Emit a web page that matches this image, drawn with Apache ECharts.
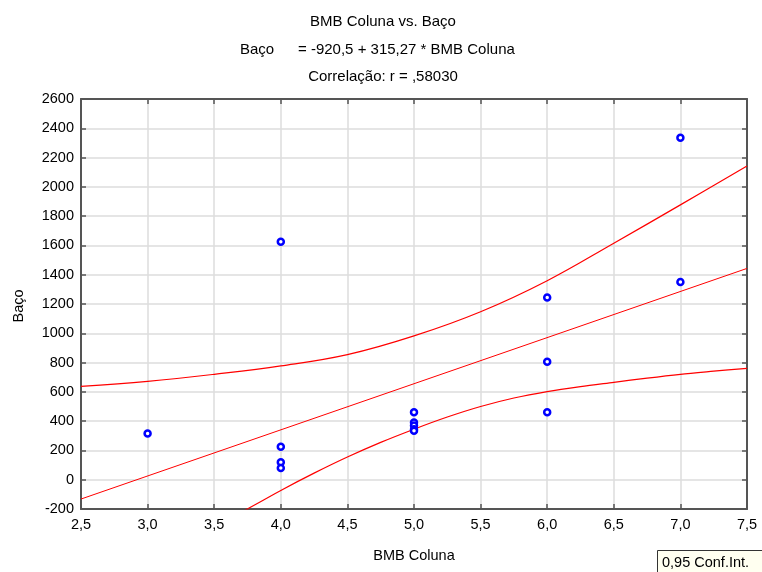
<!DOCTYPE html>
<html>
<head>
<meta charset="utf-8">
<script src="https://cdn.jsdelivr.net/npm/echarts@6/dist/echarts.min.js"></script>
<style>html,body{margin:0;padding:0;background:#fff;}#c{width:762px;height:572px;}</style>
</head>
<body>
<div id="c"></div>
<script>
// Observed points (BMB Coluna, Baço)
var pointX = [3.0, 4.0, 4.0, 4.0, 4.0, 5.0, 5.0, 5.0, 5.0, 5.0, 6.0, 6.0, 6.0, 7.0, 7.0];
var pointY = [315, 1625, 225, 120, 80, 460, 390, 370, 345, 335, 1245, 805, 460, 2335, 1350];

// Regression line endpoints
var regX = [2.5, 7.5];
var regY = [-132, 1443];

// Upper 0.95 confidence band
var upperX = [2.5, 3.0, 3.5, 4.0, 4.5, 5.0, 5.5, 6.0, 6.5, 7.0, 7.5];
var upperY = [638, 672, 720, 777, 854, 982, 1147, 1359, 1615, 1877, 2143];

// Lower 0.95 confidence band
var lowerX = [3.5, 3.75, 4.0, 4.25, 4.5, 4.75, 5.0, 5.25, 5.5, 5.75, 6.0, 6.25, 6.5, 6.75, 7.0, 7.25, 7.5];
var lowerY = [-330, -200, -73, 45, 155, 255, 345, 428, 500, 558, 602, 636, 665, 694, 720, 741, 761];

// Axis ticks
var xMin = 2.5, xMax = 7.5, xStep = 0.5;
var yMin = -200, yMax = 2600, yStep = 200;

function zip(a, b) { return a.map(function (v, i) { return [v, b[i]]; }); }

var FONT = '"Liberation Sans", Arial, sans-serif';
var axisCol = '#555';
var chart = echarts.init(document.getElementById('c'), null, { renderer: 'canvas' });

var tickStyle = { show: true, inside: true, length: 5, lineStyle: { color: axisCol, width: 1.5 } };
var lineStyleAxis = { show: true, onZero: false, lineStyle: { color: axisCol, width: 2 } };

chart.setOption({
  animation: false,
  backgroundColor: '#fff',
  grid: { left: 81, right: 15, top: 99, bottom: 63 },
  xAxis: [{
    type: 'value', min: xMin, max: xMax, interval: xStep,
    axisLine: lineStyleAxis, axisTick: tickStyle,
    splitLine: { show: true, lineStyle: { color: '#dcdcdc', width: 1.5 } },
    axisLabel: { color: '#000', fontFamily: FONT, fontSize: 14.5, margin: 8,
      formatter: function (v) { return v.toFixed(1).replace('.', ','); } }
  }, {
    type: 'value', position: 'top', min: xMin, max: xMax, interval: xStep,
    axisLine: lineStyleAxis, axisTick: tickStyle, splitLine: { show: false }, axisLabel: { show: false }
  }],
  yAxis: [{
    type: 'value', min: yMin, max: yMax, interval: yStep,
    axisLine: lineStyleAxis, axisTick: tickStyle,
    splitLine: { show: true, lineStyle: { color: '#dcdcdc', width: 1.5 } },
    axisLabel: { color: '#000', fontFamily: FONT, fontSize: 14.5, margin: 7,
      formatter: function (v) { return String(v); } }
  }, {
    type: 'value', position: 'right', min: yMin, max: yMax, interval: yStep,
    axisLine: lineStyleAxis, axisTick: tickStyle, splitLine: { show: false }, axisLabel: { show: false }
  }],
  series: [
    { type: 'line', data: zip(regX, regY), showSymbol: false, symbol: 'none', clip: true,
      lineStyle: { color: '#ff0000', width: 1 } },
    { type: 'line', data: zip(upperX, upperY), showSymbol: false, symbol: 'none', smooth: 0.4, clip: true,
      lineStyle: { color: '#ff0000', width: 1.2 } },
    { type: 'line', data: zip(lowerX, lowerY), showSymbol: false, symbol: 'none', smooth: 0.3, clip: true,
      lineStyle: { color: '#ff0000', width: 1.2 } },
    { type: 'scatter', data: zip(pointX, pointY), symbol: 'circle', symbolSize: 6,
      itemStyle: { color: '#ffffff', borderColor: '#0000ff', borderWidth: 2.5, opacity: 1 }, z: 5 }
  ],
  graphic: [
    { type: 'text', style: { text: 'BMB Coluna vs. Baço', x: 383, y: 22, align: 'center', verticalAlign: 'middle', font: '15px ' + FONT, fill: '#000' } },
    { type: 'text', style: { text: 'Baço', x: 240, y: 50, align: 'left', verticalAlign: 'middle', font: '15px ' + FONT, fill: '#000' } },
    { type: 'text', style: { text: '= -920,5 + 315,27 * BMB Coluna', x: 298, y: 50, align: 'left', verticalAlign: 'middle', font: '15px ' + FONT, fill: '#000' } },
    { type: 'text', style: { text: 'Correlação: r = ,58030', x: 383, y: 77, align: 'center', verticalAlign: 'middle', font: '15px ' + FONT, fill: '#000' } },
    { type: 'text', style: { text: 'BMB Coluna', x: 414, y: 556, align: 'center', verticalAlign: 'middle', font: '14.5px ' + FONT, fill: '#000' } },
    { type: 'text', rotation: Math.PI / 2, x: 19, y: 306, style: { text: 'Baço', x: 0, y: 0, align: 'center', verticalAlign: 'middle', font: '14.5px ' + FONT, fill: '#000' } },
    { type: 'rect', shape: { x: 657.5, y: 550.5, width: 110, height: 30 }, style: { fill: '#fffff0', stroke: '#333', lineWidth: 1 } },
    { type: 'text', style: { text: '0,95 Conf.Int.', x: 662, y: 563, align: 'left', verticalAlign: 'middle', font: '14.5px ' + FONT, fill: '#000' } }
  ]
});
</script>
</body>
</html>
